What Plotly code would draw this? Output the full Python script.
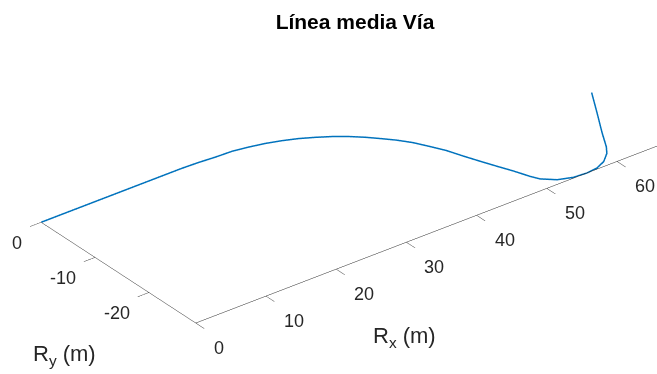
import numpy as np
import plotly.graph_objects as go

# Track mid-line (m)
rx = [0.0, 12.0, 20.0, 22.3, 24.6, 26.9, 29.0, 31.0, 32.85, 34.6, 36.3, 37.9,
      39.4, 40.8, 42.0, 43.15, 44.3, 45.25, 46.2, 46.95, 47.75, 48.55, 49.4,
      50.15, 50.7, 51.3, 52.1, 53.9, 55.7, 57.3, 58.8, 60.2, 61.05, 62.65,
      64.9, 67.2]
ry = [0.0, 0.0, 0.0, -0.1, -0.3, -0.4, -0.8, -1.3, -1.95, -2.7, -3.65, -4.65,
      -5.8, -7.1, -8.4, -9.7, -11.3, -13.1, -15.0, -17.15, -19.25, -21.25,
      -23.3, -25.4, -26.55, -27.1, -27.85, -28.55, -28.7, -28.5, -27.8, -26.55,
      -25.35, -22.45, -18.6, -14.6]
rz = [0.0] * len(rx)

x_ticks = [0, 10, 20, 30, 40, 50, 60]
y_ticks = [-20, -10, 0]

title_text = "Línea media Vía"
x_title = "R<sub>x</sub> (m)"
y_title = "R<sub>y</sub> (m)"

xr = [min(rx), max(rx)]
yr = [min(ry), max(ry)]
zr = [0, 1]

axis_col = "#262626"
font_fam = "Arial, Liberation Sans, Helvetica, sans-serif"

fig = go.Figure()
fig.add_trace(go.Scatter3d(
    x=rx, y=ry, z=rz, mode="lines",
    line=dict(color="#0072BD", width=3),
    showlegend=False, hoverinfo="skip"))

ax_common = dict(showgrid=False, zeroline=False, showbackground=False,
                 showline=True, linecolor=axis_col, linewidth=1,
                 ticks="outside", ticklen=14, tickwidth=1, tickcolor=axis_col,
                 showspikes=False, showticklabels=False, title=dict(text=""))

# equal data aspect for x and y (orthographic zoom is set through aspectratio)
k = 3.18
sx = xr[1] - xr[0]
sy = yr[1] - yr[0]
ar = dict(x=k, y=k * sy / sx, z=0.003)

# camera (MATLAB default 3-D view: az -37.5, el 30)
d = np.array([-0.527, -0.687, 0.5])
d = d / np.linalg.norm(d)
cen = np.array([-0.118, 0.0735, -0.0236])
eye = cen + 5.0 * d

tick_font = dict(size=18, color=axis_col, family=font_fam)
scene_ann = []
for v in x_ticks:
    scene_ann.append(dict(x=v, y=yr[0], z=0, text=str(v), showarrow=False,
                          xanchor="left", yanchor="middle", xshift=16, yshift=-25,
                          font=tick_font))
for v in y_ticks:
    scene_ann.append(dict(x=xr[0], y=v, z=0, text=str(v), showarrow=False,
                          xanchor="right", yanchor="middle", xshift=-17, yshift=-21,
                          font=tick_font))

fig.update_layout(
    width=657, height=374,
    margin=dict(l=0, r=0, t=0, b=0),
    paper_bgcolor="white",
    title=dict(text="<b>" + title_text + "</b>", x=355 / 657, xanchor="center",
               y=1 - 22 / 374, yanchor="middle",
               font=dict(size=21, color="black", family=font_fam)),
    scene=dict(
        domain=dict(x=[0, 1], y=[0, 1]),
        xaxis=dict(range=xr, tickvals=x_ticks, **ax_common),
        yaxis=dict(range=yr, tickvals=y_ticks, **ax_common),
        zaxis=dict(range=zr, visible=False),
        aspectmode="manual", aspectratio=ar,
        camera=dict(projection=dict(type="orthographic"),
                    up=dict(x=0, y=0, z=1),
                    center=dict(x=cen[0], y=cen[1], z=cen[2]),
                    eye=dict(x=eye[0], y=eye[1], z=eye[2])),
        bgcolor="white",
        annotations=scene_ann,
    ),
    annotations=[
        dict(text=x_title, x=404 / 657, y=1 - 337 / 374, xref="paper", yref="paper",
             showarrow=False, xanchor="center", yanchor="middle",
             font=dict(size=22, color=axis_col, family=font_fam)),
        dict(text=y_title, x=64 / 657, y=1 - 355 / 374, xref="paper", yref="paper",
             showarrow=False, xanchor="center", yanchor="middle",
             font=dict(size=22, color=axis_col, family=font_fam)),
    ],
)

fig.write_html("out.html")
